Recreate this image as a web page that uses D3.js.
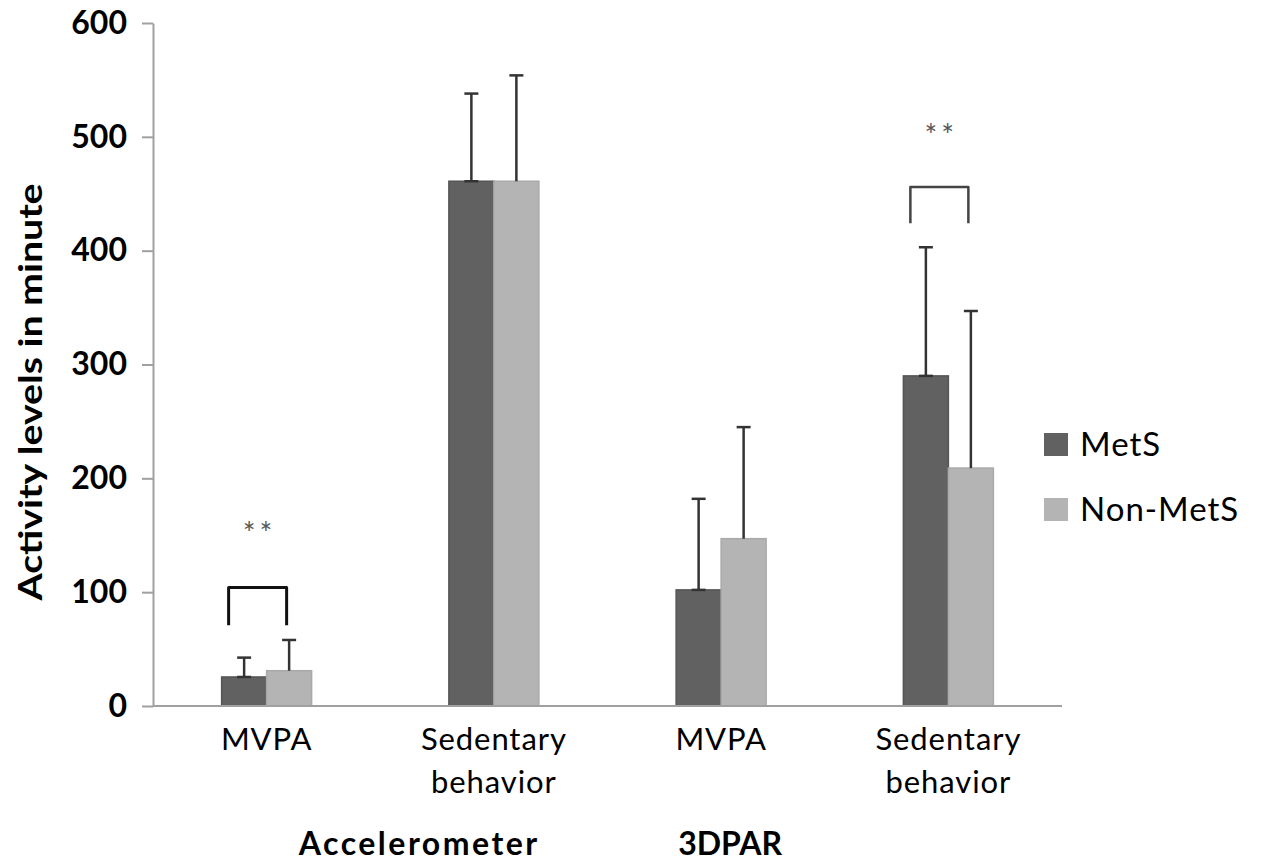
<!DOCTYPE html>
<html>
<head>
<meta charset="utf-8">
<script src="https://cdn.jsdelivr.net/npm/d3@7"></script>
<style>
  html, body { margin: 0; padding: 0; background: #fff; }
  svg { display: block; font-family: Lato, "Open Sans", sans-serif; }
</style>
</head>
<body>
<svg id="chart" width="1266" height="865"></svg>
<script>
// ---- data ----
const categories = ["MVPA|A", "Sedentary behavior|A", "MVPA|B", "Sedentary behavior|B"];
const categoryLabels = [["MVPA"], ["Sedentary", "behavior"], ["MVPA"], ["Sedentary", "behavior"]];
const seriesNames = ["MetS", "Non-MetS"];
const metsMean = [25.5, 461, 102, 290];
const metsSD = [17, 77, 80, 113];
const nonMetsMean = [31, 461, 147, 209];
const nonMetsSD = [27, 93, 98, 138];
const yTicks = [0, 100, 200, 300, 400, 500, 600];
const instrumentLabels = ["Accelerometer", "3DPAR"];
// significance brackets: category index, bracket top, bracket leg end, star label height
const sigCategory = [0, 3];
const sigTop = [104, 456];
const sigLegEnd = [71, 424];
const sigStars = [155, 504];

// ---- layout ----
const svg = d3.select("#chart");
const plotLeft = 153, plotRight = 1062, plotTop = 23, plotBottom = 706;
const colors = ["#616161", "#b4b4b4"];
const strokes = ["#555555", "#a9a9a9"];

const x = d3.scaleBand().domain(categories).range([plotLeft, plotRight]).paddingInner(0).paddingOuter(0);
const y = d3.scaleLinear().domain([0, 600]).range([plotBottom, plotTop]);
const barW = 45;
const xs = d3.scaleBand().domain(seriesNames).range([0, barW * 2]);

const data = categories.map((c, i) => ({
  cat: c,
  vals: [
    { s: seriesNames[0], mean: metsMean[i], sd: metsSD[i] },
    { s: seriesNames[1], mean: nonMetsMean[i], sd: nonMetsSD[i] }
  ]
}));

// y axis
const yAxis = d3.axisLeft(y).tickValues(yTicks).tickSize(11).tickPadding(15).tickSizeOuter(0);
const gy = svg.append("g").attr("transform", `translate(${plotLeft},0)`).call(yAxis);
gy.select(".domain").attr("stroke", "#a0a0a0").attr("stroke-width", 2);
gy.selectAll(".tick line").attr("stroke", "#a0a0a0").attr("stroke-width", 2);
gy.selectAll(".tick text").attr("fill", "#000").attr("font-size", 32).attr("font-weight", "bold")
  .attr("font-family", "Lato, sans-serif");

// bars
const groups = svg.append("g").selectAll("g").data(data).join("g")
  .attr("transform", d => `translate(${x(d.cat) + x.bandwidth() / 2 - barW},0)`);

groups.selectAll("rect").data(d => d.vals).join("rect")
  .attr("x", d => xs(d.s))
  .attr("y", d => y(d.mean))
  .attr("width", xs.bandwidth())
  .attr("height", d => y(0) - y(d.mean))
  .attr("fill", (d, i) => colors[i])
  .attr("stroke", (d, i) => strokes[i])
  .attr("stroke-width", 1.5);

// error bars
const eb = groups.selectAll("g.err").data(d => d.vals).join("g").attr("class", "err");
eb.append("line")
  .attr("x1", d => xs(d.s) + xs.bandwidth() / 2)
  .attr("x2", d => xs(d.s) + xs.bandwidth() / 2)
  .attr("y1", d => y(d.mean))
  .attr("y2", d => y(d.mean + d.sd))
  .attr("stroke", "#333").attr("stroke-width", 2.5);
eb.append("line")
  .attr("x1", d => xs(d.s) + xs.bandwidth() / 2 - 7)
  .attr("x2", d => xs(d.s) + xs.bandwidth() / 2 + 7)
  .attr("y1", d => y(d.mean + d.sd))
  .attr("y2", d => y(d.mean + d.sd))
  .attr("stroke", "#333").attr("stroke-width", 2.5);
eb.filter((d, i) => i === 0).append("line")
  .attr("x1", d => xs(d.s) + xs.bandwidth() / 2 - 7)
  .attr("x2", d => xs(d.s) + xs.bandwidth() / 2 + 7)
  .attr("y1", d => y(d.mean))
  .attr("y2", d => y(d.mean))
  .attr("stroke", "#333").attr("stroke-width", 2.5);

// x axis line
svg.append("line").attr("x1", plotLeft).attr("x2", plotRight).attr("y1", y(0)).attr("y2", y(0))
  .attr("stroke", "#a0a0a0").attr("stroke-width", 2);

// category labels
const catG = svg.append("g");
categories.forEach((c, i) => {
  const t = catG.append("text")
    .attr("x", x(c) + x.bandwidth() / 2)
    .attr("y", 750)
    .attr("text-anchor", "middle")
    .attr("font-size", 31)
    .attr("letter-spacing", 0.9)
    .attr("fill", "#000");
  categoryLabels[i].forEach((line, j) => {
    t.append("tspan").attr("x", x(c) + x.bandwidth() / 2).attr("dy", j === 0 ? 0 : 43).text(line);
  });
});

// instrument labels
const instrX = [(x(categories[0]) + x(categories[1]) + x.bandwidth()) / 2 + 39,
                x(categories[2]) + x.bandwidth() / 2 + 9];
const instrSpacing = [2.5, 0];
instrumentLabels.forEach((lab, i) => {
  svg.append("text").attr("x", instrX[i]).attr("y", 855)
    .attr("text-anchor", "middle").attr("font-size", 32).attr("font-weight", "bold")
    .attr("letter-spacing", instrSpacing[i])
    .attr("fill", "#000").text(lab);
});

// y title
svg.append("text")
  .attr("transform", `translate(42,392) rotate(-90)`)
  .attr("text-anchor", "middle")
  .attr("font-size", 33).attr("font-weight", "bold").attr("fill", "#000")
  .attr("textLength", 417).attr("lengthAdjust", "spacingAndGlyphs")
  .text("Activity levels in minute");

// significance brackets
sigCategory.forEach((ci, k) => {
  const c = categories[ci];
  const cx = x(c) + x.bandwidth() / 2;
  const x1 = cx - barW + 7, x2 = cx + 20;
  svg.append("path")
    .attr("d", `M${x1},${y(sigLegEnd[k])}V${y(sigTop[k])}H${x2}V${y(sigLegEnd[k])}`)
    .attr("fill", "none")
    .attr("stroke", k === 0 ? "#111" : "#444")
    .attr("stroke-width", k === 0 ? 3 : 2.5)
    .attr("stroke-linejoin", "round");
  svg.append("text")
    .attr("x", (x1 + x2) / 2 + 2).attr("y", y(sigStars[k]) + 14)
    .attr("text-anchor", "middle").attr("font-size", 30).attr("fill", "#555")
    .attr("letter-spacing", 4)
    .text("**");
});

// legend
const legend = svg.append("g").attr("transform", "translate(1044,433)");
seriesNames.forEach((s, i) => {
  const g = legend.append("g").attr("transform", `translate(0,${i * 65})`);
  g.append("rect").attr("width", 24).attr("height", 23).attr("fill", colors[i]);
  g.append("text").attr("x", 36).attr("y", 23).attr("font-size", 33)
    .attr("letter-spacing", 1).attr("fill", "#000").text(s);
});
</script>
</body>
</html>
